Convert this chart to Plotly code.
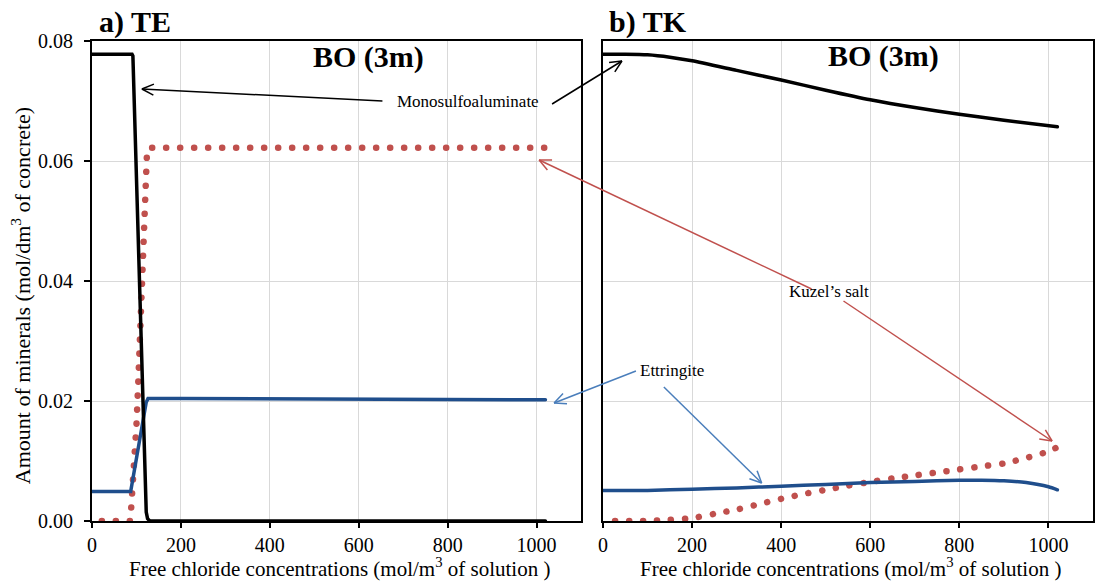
import math
import plotly.graph_objects as go
from plotly.subplots import make_subplots

# ---- data: amount of minerals (mol/dm3 of concrete) vs free chloride (mol/m3) ----
# a) TE
te_mono_x = [0, 90, 92, 122, 125, 130, 1020]
te_mono_y = [0.0778, 0.0778, 0.0775, 0.0015, 0.0004, 0.0, 0.0]

te_ett_x = [0, 87, 122, 126, 200, 600, 1020]
te_ett_y = [0.0049, 0.0049, 0.0198, 0.0204, 0.0204, 0.0203, 0.0202]

te_kuz_x = [22, 86, 88, 95, 100, 104, 110, 114, 118, 121, 124, 135, 1020]
te_kuz_y = [0.0, 0.0, 0.002, 0.009, 0.016, 0.023, 0.036, 0.045, 0.054, 0.0605, 0.0620, 0.0622, 0.0622]

# b) TK
tk_mono_x = [0, 50, 100, 150, 200, 300, 400, 500, 600, 700, 800, 900, 1020]
tk_mono_y = [0.0778, 0.0778, 0.0777, 0.0773, 0.0767, 0.0751, 0.0735, 0.0718, 0.0702, 0.0689, 0.0678, 0.0668, 0.0657]

tk_ett_x = [0, 100, 200, 300, 400, 500, 600, 700, 800, 850, 900, 950, 1000, 1020]
tk_ett_y = [0.0051, 0.0051, 0.0053, 0.0055, 0.0058, 0.0061, 0.0064, 0.0066, 0.0068, 0.0068, 0.0067, 0.0064, 0.0057, 0.0052]

tk_kuz_x = [27, 60, 100, 150, 200, 250, 300, 350, 400, 450, 500, 550, 600, 650, 700, 750, 800, 850, 900, 950, 1000, 1020]
tk_kuz_y = [0.0, 0.0, 0.0, 0.0002, 0.0005, 0.0012, 0.0019, 0.0028, 0.0037, 0.0045, 0.0052, 0.0059, 0.0065, 0.0071,
            0.0076, 0.0081, 0.0086, 0.0091, 0.0096, 0.0105, 0.0116, 0.0123]

x_ticks = [0, 200, 400, 600, 800, 1000]
y_ticks = [0.00, 0.02, 0.04, 0.06, 0.08]

# ---- styling ----
FONT = "Liberation Serif, Times New Roman, Times, serif"
BLACK = "#000000"
DARKBLUE = "#1F4E8C"
RED = "#C0504D"
LIGHTBLUE = "#4A7EBB"
GRID = "#D9D9D9"

W, H = 1097, 583
ML, MR, MT, MB = 92, 2, 41, 62
PW, PH = W - ML - MR, H - MT - MB


def to_paper(px, py):
    return (px - ML) / PW, 1 - (py - MT) / PH


fig = make_subplots(rows=1, cols=2, horizontal_spacing=0.022)
fig.update_layout(xaxis=dict(domain=[0, 0.4885]), xaxis2=dict(domain=[0.5105, 1.0]))

panels = [
    (1, "linear", te_mono_x, te_mono_y, te_ett_x, te_ett_y, te_kuz_x, te_kuz_y),
    (2, "spline", tk_mono_x, tk_mono_y, tk_ett_x, tk_ett_y, tk_kuz_x, tk_kuz_y),
]
for col, shape, mx, my, ex, ey, kx, ky in panels:
    fig.add_trace(go.Scatter(x=kx, y=ky, mode="lines", cliponaxis=False, showlegend=False,
                             line=dict(color=RED, width=6.5, dash="0.1px,13.9px", shape=shape,
                                       smoothing=0.6)), row=1, col=col)
    fig.add_trace(go.Scatter(x=ex, y=ey, mode="lines", cliponaxis=False, showlegend=False,
                             line=dict(color=DARKBLUE, width=3.5, shape=shape, smoothing=0.6)),
                  row=1, col=col)
    fig.add_trace(go.Scatter(x=mx, y=my, mode="lines", cliponaxis=False, showlegend=False,
                             line=dict(color=BLACK, width=3.5, shape=shape, smoothing=0.6)),
                  row=1, col=col)

axis_common = dict(showline=True, linecolor=BLACK, linewidth=2, mirror=True, showgrid=True,
                   gridcolor=GRID, gridwidth=1, zeroline=False,
                   tickfont=dict(family=FONT, size=20, color=BLACK))
for col in (1, 2):
    fig.update_xaxes(range=[0, 1100], tickvals=x_ticks, ticks="outside", ticklen=5, tickwidth=1.5,
                     tickcolor=BLACK, ticklabelstandoff=0, **axis_common, row=1, col=col)
fig.update_yaxes(range=[0, 0.08], tickvals=y_ticks, tickformat=".2f", ticks="outside", ticklen=6,
                 tickwidth=1.5, tickcolor=BLACK, ticklabelstandoff=7, **axis_common, row=1, col=1)
fig.update_yaxes(range=[0, 0.08], tickvals=y_ticks, showticklabels=False, ticks="", **axis_common,
                 row=1, col=2)

annotations = []
shapes = []


def text_at(px, py, text, size, bold=False, xanchor="center", angle=0):
    x, y = to_paper(px, py)
    annotations.append(dict(x=x, y=y, xref="paper", yref="paper", text=f"<b>{text}</b>" if bold else text,
                            showarrow=False, xanchor=xanchor, yanchor="middle", textangle=angle,
                            font=dict(family=FONT, size=size, color=BLACK)))


def pointer(x0, y0, x1, y1, color, head=13, spread=25):
    # straight leader with an open V head at (x1, y1)
    segs = [((x0, y0), (x1, y1))]
    ang = math.atan2(y0 - y1, x0 - x1)
    for s in (-spread, spread):
        a = ang + math.radians(s)
        segs.append(((x1, y1), (x1 + head * math.cos(a), y1 + head * math.sin(a))))
    for (ax, ay), (bx, by) in segs:
        p0, p1 = to_paper(ax, ay), to_paper(bx, by)
        shapes.append(dict(type="line", xref="paper", yref="paper", x0=p0[0], y0=p0[1], x1=p1[0], y1=p1[1],
                           line=dict(color=color, width=1.5)))


# panel headings
text_at(97, 22, "a) TE", 30, bold=True, xanchor="left")
text_at(608, 22, "b) TK", 30, bold=True, xanchor="left")
text_at(369, 57, "BO (3m)", 30, bold=True)
text_at(885, 56, "BO (3m)", 30, bold=True)

# axis titles
text_at(340, 567, "Free chloride concentrations (mol/m<sup>3</sup> of solution )", 21)
text_at(852, 567, "Free chloride concentrations (mol/m<sup>3</sup> of solution )", 21)
text_at(21, 296, "Amount of minerals (mol/dm<sup>3</sup> of concrete)", 22, angle=-90)

# mineral labels with leaders
text_at(469, 101, "Monosulfoaluminate", 17)
pointer(383, 101, 142, 89, BLACK)
pointer(553, 104, 623, 61, BLACK)

text_at(830, 291, "Kuzel’s salt", 17)
pointer(813, 289, 540, 160, RED)
pointer(845, 301, 1054, 441, RED)

text_at(673, 370, "Ettringite", 17)
pointer(637, 371, 555, 403, LIGHTBLUE)
pointer(665, 387, 763, 483, LIGHTBLUE)

fig.update_layout(
    width=W, height=H,
    margin=dict(l=ML, r=MR, t=MT, b=MB),
    paper_bgcolor="white", plot_bgcolor="white",
    font=dict(family=FONT, color=BLACK),
    annotations=annotations, shapes=shapes,
    showlegend=False,
)

# round line caps turn the short dashes into round dots
round_caps = ("var s=document.createElement('style');"
              "s.textContent='.js-line{stroke-linecap:round;}';"
              "document.head.appendChild(s);")
fig.write_html("out.html", post_script=round_caps)
